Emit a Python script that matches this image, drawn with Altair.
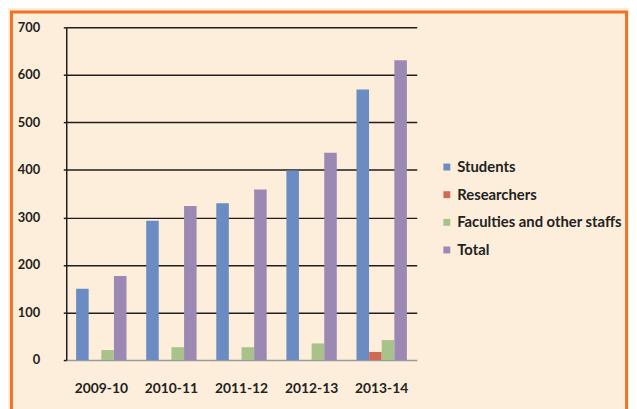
import altair as alt
import pandas as pd

years = ["2009-10", "2010-11", "2011-12", "2012-13", "2013-14"]
series = ["Students", "Researchers", "Faculties and other staffs", "Total"]
students = [150, 293, 330, 399, 569]
researchers = [0, 0, 0, 0, 17]
faculties = [21, 27, 27, 35, 42]
total = [177, 324, 359, 436, 631]
y_ticks = [0, 100, 200, 300, 400, 500, 600, 700]
colors = ["#6B8CC3", "#CF6B55", "#A8C28A", "#9C89B3"]

rows = []
for name, vals in zip(series, [students, researchers, faculties, total]):
    for yr, v in zip(years, vals):
        rows.append({"Year": yr, "Series": name, "Value": v})
df = pd.DataFrame(rows)

W, H = 355, 337

bars = alt.Chart(df).mark_bar(size=12.7).encode(
    x=alt.X("Year:N", sort=years,
            scale=alt.Scale(paddingInner=0.28, paddingOuter=0.14),
            axis=alt.Axis(title=None, labelAngle=0, ticks=False, domain=False,
                          labelPadding=22, labelFont="Lato", labelFontSize=14,
                          labelFontWeight="bold", labelColor="#222222")),
    xOffset=alt.XOffset("Series:N", sort=series,
                        scale=alt.Scale(paddingInner=0, paddingOuter=0)),
    y=alt.Y("Value:Q",
            scale=alt.Scale(domain=[0, 700], nice=False),
            axis=alt.Axis(title=None, values=y_ticks, grid=True,
                          gridColor={"condition": {"test": "datum.value === 0", "value": "#9a9a9a"}, "value": "#1e1e1e"},
                          gridWidth=1.5, domainColor="#1e1e1e", domainWidth=1.5,
                          tickColor="#1e1e1e", tickSize=3, tickWidth=1.5,
                          labelPadding=24, labelFont="Lato", labelFontSize=13,
                          labelFontWeight="bold", labelColor="#222222")),
    color=alt.Color("Series:N", sort=series,
                    scale=alt.Scale(domain=series, range=colors),
                    legend=alt.Legend(title=None, orient="none", legendX=378, legendY=134,
                                      symbolType="square", symbolSize=49, symbolStrokeWidth=0,
                                      labelFont="Lato", labelFontSize=15, labelFontWeight="bold",
                                      labelColor="#222222", rowPadding=12, labelOffset=3,
                                      labelLimit=300, padding=0)),
)

frame = alt.Chart(alt.Data(values=[{"k": 1}])).mark_rect(
    stroke="#EE7326", strokeWidth=3, fillOpacity=0
).encode(
    x=alt.value(-55.5), x2=alt.value(567.5), y=alt.value(-15.5), y2=alt.value(420)
)

chart = alt.layer(bars, frame).properties(
    width=W, height=H,
    background="#FCEEDA",
    padding={"left": 59, "top": 17, "right": 215, "bottom": 47},
    autosize=alt.AutoSizeParams(type="none"),
).configure_view(stroke=None)

chart.save("out.html", embed_options={"renderer": "svg", "actions": False})
